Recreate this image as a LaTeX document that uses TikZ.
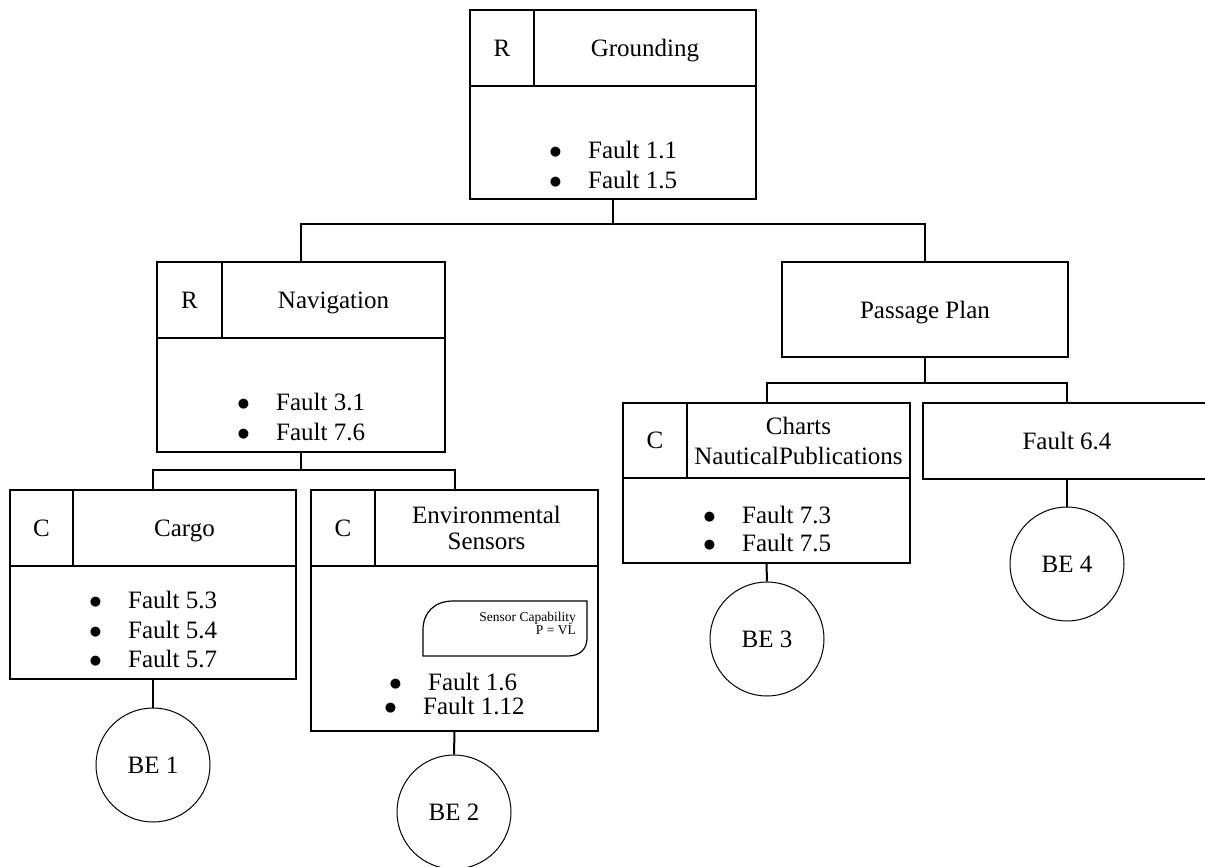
\documentclass[tikz,border=0pt]{standalone}
\usepackage{fontspec}
\setmainfont{Liberation Serif}
\newfontfamily\symfont{DejaVu Sans}
\newcommand{\mkcell}[7][cell]{\node[#1, minimum width={(#5-#3)*1pt}, minimum height={(#6-#4)*1pt}] (#2) at ({(#3+#5)/2},{(#4+#6)/2}) {#7};}
\newcommand{\bigbullet}{\raisebox{2.8pt}{\symfont\fontsize{13}{13}\selectfont ●}}
\newcommand{\mkitem}[4]{\node[item] (#1) at (#2,#3) {\llap{\bigbullet\hspace{27pt}}#4};}
\begin{document}
\begin{tikzpicture}[x=1pt,y=-1pt,
  cell/.style={draw, line width=1.1pt, inner sep=0pt, align=center, font=\fontsize{25}{30}\selectfont},
  title/.style={cell, text depth=0pt},
  frame/.style={inner sep=0pt},
  conn/.style={line width=2pt},
  be/.style={draw, circle, line width=1pt, minimum size=114pt, inner sep=0pt, font=\fontsize{25}{30}\selectfont},
  item/.style={anchor=base west, inner sep=0pt, font=\fontsize{25}{30}\selectfont},
  notetext/.style={anchor=east, inner sep=0pt, align=right, font=\fontsize{13.5}{13}\selectfont}
]
\clip (0,0) rectangle (1205,867);
% Grounding
\mkcell[frame]{G}{470}{10}{756}{199}{}
\mkcell{Gtag}{470}{10}{534}{86}{R}
\mkcell[title]{Gtitle}{534}{10}{756}{86}{Grounding}
\mkcell{Gbody}{470}{86}{756}{199}{}
\mkitem{g1}{588}{158.5}{Fault 1.1}
\mkitem{g2}{588}{188.5}{Fault 1.5}
% Navigation
\mkcell[frame]{N}{157}{262}{445}{452}{}
\mkcell{Ntag}{157}{262}{222}{338}{R}
\mkcell[title]{Ntitle}{222}{262}{445}{338}{Navigation}
\mkcell{Nbody}{157}{338}{445}{452}{}
\mkitem{n1}{276}{410.5}{Fault 3.1}
\mkitem{n2}{276}{440.5}{Fault 7.6}
% Passage Plan
\mkcell[title]{P}{782}{262}{1068}{357}{Passage Plan}
% Cargo
\mkcell[frame]{C}{10}{490}{296}{679}{}
\mkcell{Ctag}{10}{490}{73}{566}{C}
\mkcell[title]{Ctitle}{73}{490}{296}{566}{Cargo}
\mkcell{Cbody}{10}{566}{296}{679}{}
\mkitem{c1}{128}{608.5}{Fault 5.3}
\mkitem{c2}{128}{638.5}{Fault 5.4}
\mkitem{c3}{128}{667.5}{Fault 5.7}
% Environmental Sensors
\mkcell[frame]{E}{311}{490}{598}{731}{}
\mkcell{Etag}{311}{490}{375}{566}{C}
\mkcell[cell,font=\fontsize{25}{26}\selectfont]{Etitle}{375}{490}{598}{566}{Environmental\\Sensors}
\mkcell{Ebody}{311}{566}{598}{731}{}
\draw[line width=1.2pt] (423,656) -- (423,630) .. controls (423,612) and (435,601) .. (453,601) -- (587,601) -- (587,638) .. controls (587,649) and (580,656) .. (568,656) -- cycle;
\node[notetext] (note) at (576,623) {Sensor Capability\\P = VL};
\mkitem{e1}{428}{690.5}{Fault 1.6}
\mkitem{e2}{423}{714.5}{Fault 1.12}
% Charts
\mkcell[frame]{Ch}{623}{403}{910}{563}{}
\mkcell{Chtag}{623}{403}{687}{478}{C}
\mkcell{Chtitle}{687}{403}{910}{478}{Charts\\NauticalPublications}
\mkcell{Chbody}{623}{478}{910}{563}{}
\mkitem{h1}{742}{523.5}{Fault 7.3}
\mkitem{h2}{742}{551.5}{Fault 7.5}
% Fault 6.4
\mkcell{F}{923}{403}{1211}{479}{Fault 6.4}
% Basic events
\node[be] (be1) at (153,765) {BE 1};
\node[be] (be2) at (454,812) {BE 2};
\node[be] (be3) at (767,639) {BE 3};
\node[be] (be4) at (1067,564) {BE 4};
% junctions
\coordinate (j1) at (613,224);
\coordinate (j2) at (301,470);
\coordinate (j3) at (925,383);
% connectors
\draw[conn] (G.south) -- (j1);
\draw[conn] (N.north) |- (j1) -| (P.north);
\draw[conn] (N.south) -- (j2);
\draw[conn] (C.north) |- (j2) -| (E.north);
\draw[conn] (P.south) -- (j3);
\draw[conn] (Ch.north) |- (j3) -| (F.north);
\draw[conn] (C.south) -- (be1.north);
\draw[conn] (E.south) -- (be2.north);
\draw[conn] (Ch.south) -- (be3.north);
\draw[conn] (F.south) -- (be4.north);
\end{tikzpicture}
\end{document}
